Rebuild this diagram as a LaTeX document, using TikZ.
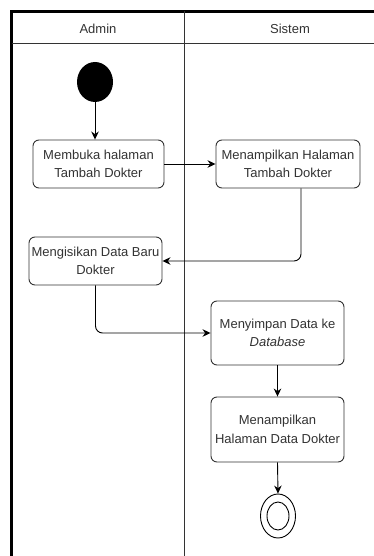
\documentclass[tikz,border=0pt]{standalone}
\usepackage{fontspec}
\setmainfont{Liberation Sans}
\usetikzlibrary{arrows.meta,shapes.geometric,calc}
\definecolor{txt}{HTML}{333333}
\tikzset{
  actbox/.style={draw=txt, line width=0.9pt, rounded corners=6pt, rectangle, align=center,
    inner sep=0pt, text=txt, font=\fontsize{13}{18.5}\selectfont},
  flow/.style={draw=black, line width=0.9pt, -{Stealth[length=8pt,width=7.5pt]}, rounded corners=7pt},
  lanelabel/.style={text=txt, font=\fontsize{13}{15}\selectfont}
}
\begin{document}
\begin{tikzpicture}[x=1pt,y=-1pt]
\useasboundingbox (0,0) rectangle (374,556);
\fill[white] (0,0) rectangle (374,556);
% pool frame
\draw[line width=3pt, line join=miter] (11.5,556) -- (11.5,11.5) -- (374,11.5);
\draw[line width=0.8pt, draw=txt] (11.5,43) -- (374,43);
\draw[line width=0.8pt, draw=txt] (184,11.5) -- (184,556);
\node[lanelabel] (admin) at (98,29) {Admin};
\node[lanelabel] (sistem) at (290,29) {Sistem};
% nodes
\node[ellipse, fill=black, minimum width=36pt, minimum height=40pt, inner sep=0pt] (start) at (95,82) {};
\node[actbox, minimum width=131pt, minimum height=48pt] (b1) at (98.5,164) {Membuka halaman\\Tambah Dokter};
\node[actbox, minimum width=144pt, minimum height=48pt] (b2) at (288,164) {Menampilkan Halaman\\Tambah Dokter};
\node[actbox, minimum width=133pt, minimum height=48pt] (b3) at (95.5,261) {Mengisikan Data Baru\\Dokter};
\node[actbox, minimum width=133pt, minimum height=64pt] (b4) at (277.5,333) {Menyimpan Data ke\\\textit{Database}};
\node[actbox, minimum width=133pt, minimum height=65pt] (b5) at (277.5,429.5) {Menampilkan\\Halaman Data Dokter};
\node[ellipse, draw=black, line width=0.9pt, minimum width=35pt, minimum height=44pt, inner sep=0pt] (end) at (278,516) {};
\node[ellipse, draw=black, line width=0.9pt, minimum width=22pt, minimum height=28pt, inner sep=0pt] (endin) at (278,516) {};
% connectors
\draw[flow] (start.south) -- (start.south |- b1.north);
\draw[flow] (b1.east) -- (b2.west);
\coordinate (b2out) at ($(b2.south)+(13,0)$);
\draw[flow] (b2out) |- (b3.east);
\draw[flow] (b3.south) |- (b4.west);
\draw[flow] (b4.south) -- (b5.north);
\draw[flow] (b5.south) -- (end.north);
\end{tikzpicture}
\end{document}
